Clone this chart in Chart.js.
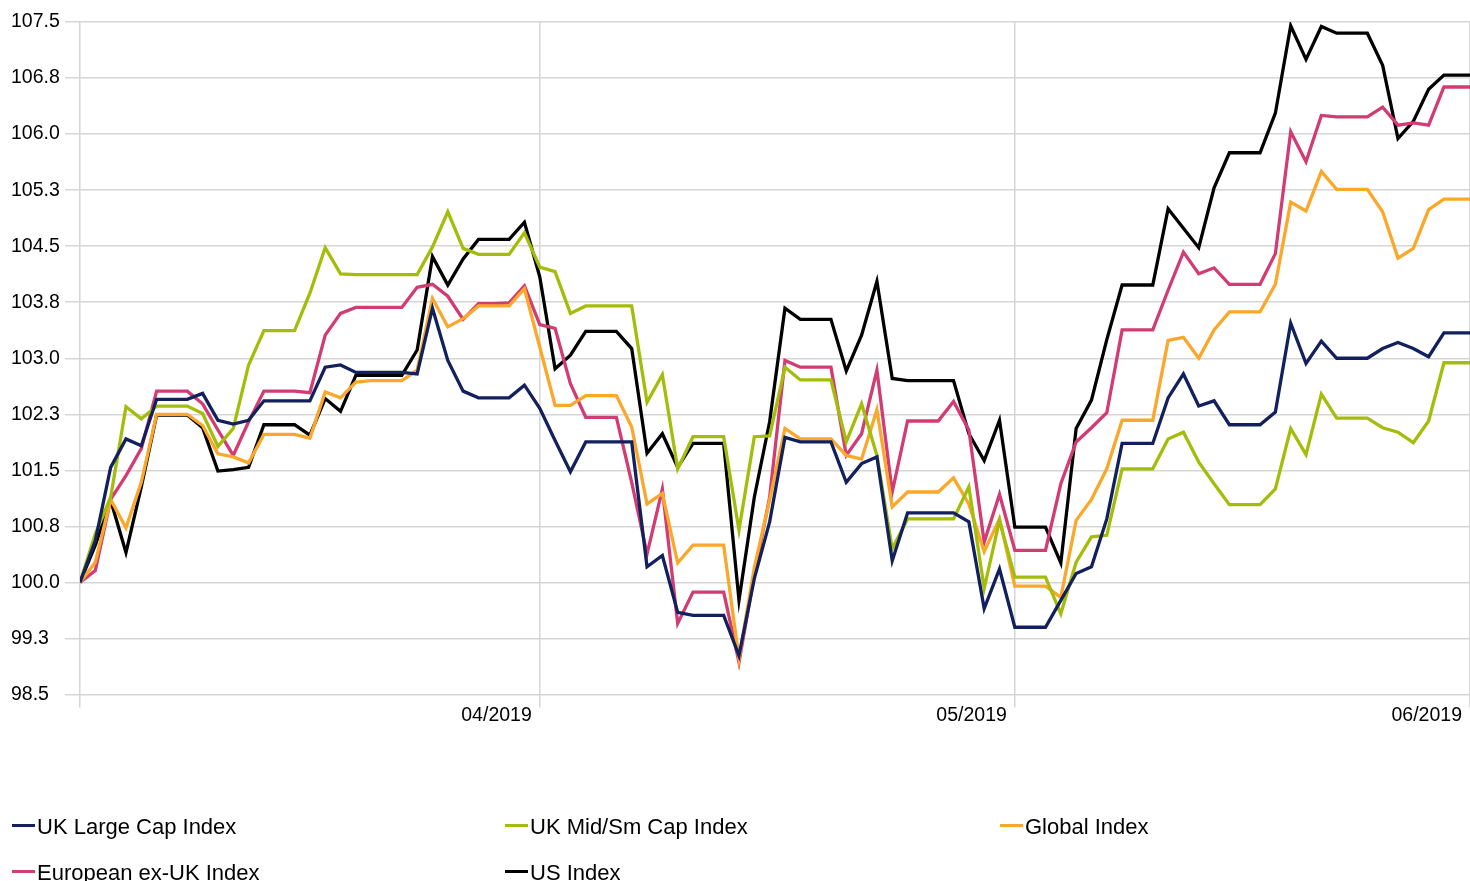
<!DOCTYPE html>
<html><head><meta charset="utf-8">
<script src="https://cdn.jsdelivr.net/npm/chart.js@4.4.1/dist/chart.umd.min.js"></script>
<style>
html,body{margin:0;padding:0;background:#fff;overflow:hidden;width:1470px;height:881px}
#wrap{position:absolute;left:0;top:0;width:1470px;height:723px}
#legend{position:absolute;left:0;top:0;width:1470px;height:881px}
.item{position:absolute;display:flex;align-items:center;height:26px;font:22px "Liberation Sans",Arial,sans-serif;color:#000;white-space:nowrap}
.mk{display:inline-block;width:23px;height:3px;margin-right:2px;position:relative;top:-2px}
</style></head>
<body>
<div id="wrap"><canvas id="c"></canvas></div>
<div id="legend"></div>
<script>
// ---- data (daily observations, index 0 = start of period) ----
const seriesNames = ['UK Large Cap Index','UK Mid/Sm Cap Index','Global Index','European ex-UK Index','US Index'];
const seriesColors = ['#12215e','#a3bd0a','#fba72a','#d03c73','#000000'];

const ukLargeCap = [100.00,100.56,101.54,101.92,101.83,102.45,102.45,102.45,102.53,102.17,102.12,102.17,102.43,102.43,102.43,102.43,102.88,102.91,102.81,102.81,102.81,102.81,102.79,103.67,102.97,102.56,102.47,102.47,102.47,102.64,102.33,101.90,101.48,101.88,101.88,101.88,101.88,100.21,100.36,99.60,99.56,99.56,99.56,99.02,100.05,100.81,101.94,101.88,101.88,101.88,101.34,101.59,101.68,100.29,100.93,100.93,100.93,100.93,100.81,99.65,100.18,99.40,99.40,99.40,99.76,100.12,100.21,100.85,101.86,101.86,101.86,102.47,102.79,102.36,102.43,102.11,102.11,102.11,102.28,103.47,102.93,103.23,103.00,103.00,103.00,103.13,103.21,103.13,103.02,103.34,103.34,103.34];
const ukMidSmCap = [100.00,100.65,101.14,102.35,102.19,102.36,102.36,102.36,102.26,101.82,102.06,102.91,103.37,103.37,103.37,103.87,104.48,104.13,104.12,104.12,104.12,104.12,104.12,104.49,104.96,104.47,104.39,104.39,104.39,104.68,104.22,104.16,103.60,103.70,103.70,103.70,103.70,102.41,102.78,101.52,101.95,101.95,101.95,100.70,101.95,101.96,102.88,102.71,102.71,102.71,101.88,102.39,101.70,100.45,100.85,100.85,100.85,100.85,101.28,99.92,100.83,100.07,100.07,100.07,99.58,100.27,100.61,100.63,101.52,101.52,101.52,101.92,102.01,101.61,101.32,101.04,101.04,101.04,101.25,102.06,101.71,102.52,102.20,102.20,102.20,102.07,102.01,101.87,102.16,102.94,102.94,102.94];
const globalIdx = [100.00,100.27,101.11,100.73,101.34,102.25,102.25,102.25,102.10,101.72,101.68,101.60,101.98,101.98,101.98,101.93,102.55,102.47,102.68,102.70,102.70,102.70,102.84,103.80,103.42,103.53,103.70,103.70,103.70,103.93,103.15,102.37,102.37,102.50,102.50,102.50,102.08,101.05,101.19,100.26,100.50,100.50,100.50,98.98,100.20,101.10,102.06,101.92,101.92,101.92,101.70,101.65,102.31,101.01,101.21,101.21,101.21,101.40,101.05,100.41,100.85,99.95,99.95,99.95,99.80,100.83,101.11,101.52,102.17,102.17,102.17,103.24,103.28,103.00,103.38,103.62,103.62,103.62,103.99,105.09,104.97,105.50,105.26,105.26,105.26,104.96,104.34,104.47,104.99,105.13,105.13,105.13];
const europeExUK = [100.00,100.16,101.11,101.43,101.79,102.56,102.56,102.56,102.39,102.04,101.70,102.15,102.56,102.56,102.56,102.54,103.31,103.60,103.68,103.68,103.68,103.68,103.95,103.99,103.83,103.52,103.73,103.73,103.74,103.97,103.45,103.40,102.66,102.21,102.21,102.21,101.34,100.38,101.25,99.45,99.87,99.87,99.87,98.93,100.10,101.14,102.97,102.88,102.88,102.88,101.70,101.99,102.84,101.21,102.16,102.16,102.16,102.42,102.04,100.54,101.18,100.43,100.43,100.43,101.32,101.88,102.07,102.27,103.38,103.38,103.38,103.91,104.42,104.13,104.21,103.99,103.99,103.99,104.40,106.03,105.63,106.25,106.23,106.23,106.23,106.36,106.12,106.15,106.12,106.63,106.63,106.63];
const usIdx = [100.00,100.50,101.10,100.40,101.28,102.24,102.24,102.24,102.07,101.49,101.51,101.54,102.11,102.11,102.11,101.97,102.46,102.29,102.77,102.77,102.77,102.77,103.11,104.36,103.98,104.33,104.59,104.59,104.59,104.82,104.09,102.86,103.04,103.36,103.36,103.36,103.13,101.73,101.99,101.54,101.86,101.86,101.86,99.76,101.14,102.15,103.67,103.52,103.52,103.52,102.83,103.31,104.03,102.73,102.70,102.70,102.70,102.70,101.99,101.63,102.17,100.74,100.74,100.74,100.26,102.06,102.44,103.25,103.98,103.98,103.98,105.00,104.74,104.48,105.28,105.75,105.75,105.75,106.28,107.45,107.00,107.44,107.35,107.35,107.35,106.92,105.94,106.17,106.60,106.79,106.79,106.79];

const monthTicks = ['04/2019','05/2019','06/2019'];
const monthTickIndex = [30, 61, 90.7];
const yMin = 98.5, yMax = 107.5, yStep = 0.75;

// ---- chart ----
const allSeries = [ukLargeCap, ukMidSmCap, globalIdx, europeExUK, usIdx];
const FONT = 'Liberation Sans';
const GRID = '#d6d6d6';

const datasets = allSeries.map((vals, k) => ({
  label: seriesNames[k],
  data: vals.map((v, i) => ({x: i, y: v})),
  borderColor: seriesColors[k],
  backgroundColor: seriesColors[k],
  borderWidth: 3.3,
  pointRadius: 0,
  pointHoverRadius: 0,
  tension: 0,
  fill: false
}));

new Chart(document.getElementById('c'), {
  type: 'line',
  data: { datasets },
  options: {
    responsive: true,
    maintainAspectRatio: false,
    animation: false,
    devicePixelRatio: 1,
    layout: { padding: { left: 11, right: 0, top: 22, bottom: 0 } },
    plugins: { legend: { display: false }, tooltip: { enabled: false } },
    scales: {
      x: {
        type: 'linear',
        min: 0,
        max: monthTickIndex[monthTickIndex.length - 1],
        border: { display: false },
        grid: { color: GRID, lineWidth: 1.5, tickLength: 13, drawTicks: true },
        afterBuildTicks: (s) => {
          s.ticks = [{ value: 0 }].concat(monthTickIndex.map(v => ({ value: v })));
        },
        ticks: {
          autoSkip: false,
          maxRotation: 0,
          align: 'end',
          labelOffset: -8,
          padding: -2,
          color: '#000',
          font: { family: FONT, size: 19.5, lineHeight: 1 },
          callback: (v) => {
            const k = monthTickIndex.indexOf(v);
            return k >= 0 ? monthTicks[k] : '';
          }
        }
      },
      y: {
        min: yMin,
        max: yMax,
        border: { display: false },
        grid: { color: GRID, lineWidth: 1.5, tickLength: 15 },
        afterFit: (s) => { s.width = 69; },
        ticks: {
          stepSize: yStep,
          crossAlign: 'far',
          padding: 3,
          color: '#000',
          font: { family: FONT, size: 19.5, lineHeight: 1 },
          callback: (v) => Number(v).toFixed(1)
        }
      }
    }
  }
});

// ---- legend (3 columns) ----
const legendCols = [12, 505, 1000];
const legendRows = [814, 860];
const lg = document.getElementById('legend');
seriesNames.forEach((name, k) => {
  const d = document.createElement('div');
  d.className = 'item';
  d.style.left = legendCols[k % 3] + 'px';
  d.style.top = legendRows[Math.floor(k / 3)] + 'px';
  const m = document.createElement('span');
  m.className = 'mk';
  m.style.background = seriesColors[k];
  const t = document.createElement('span');
  t.textContent = name;
  d.appendChild(m); d.appendChild(t);
  lg.appendChild(d);
});
</script>
</body></html>
